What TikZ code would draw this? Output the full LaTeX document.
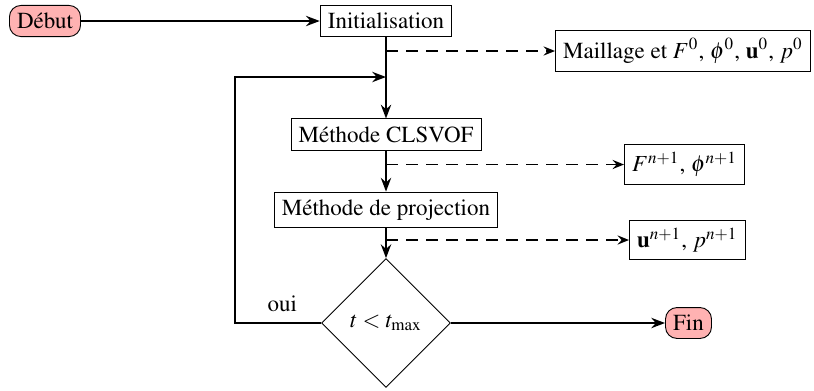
\documentclass[tikz,border=0pt]{standalone}
\usepackage[T1]{fontenc}
\usepackage{mathptmx}
\usetikzlibrary{shapes.geometric,arrows.meta}
\begin{document}
\begin{tikzpicture}[x=0.4348pt,y=-0.4348pt,
  box/.style={draw,thin,inner sep=3.33pt,fill=white},
  term/.style={draw,thin,rounded corners=5pt,fill=red!30,inner sep=3.33pt},
  decide/.style={draw,thin,diamond,aspect=1,minimum width=56pt,minimum height=56pt,inner sep=0pt},
  flow/.style={thick,-{Stealth[length=6pt,width=4.5pt,inset=2pt]}},
  data/.style={line width=0.85pt,dash pattern=on 5pt off 3.7pt,-{Stealth[length=5pt,width=4pt,inset=1.8pt]}}]
\useasboundingbox (0,0) rectangle (814,390);
\node[term] (debut) at (45,21) {Début};
\node[box] (init) at (386,21) {Initialisation};
\node[box] (clsvof) at (386,134.5) {Méthode CLSVOF};
\node[box] (proj) at (386,210) {Méthode de projection};
\node[decide] (test) at (386,323) {$t<t_{\max}$};
\node[term] (fin) at (688.5,323) {Fin};
\node[box,anchor=west] (mail) at (555,51) {Maillage et $F^0$, $\phi^0$, $\mathbf{u}^0$, $p^0$};
\node[box,anchor=west] (fphi) at (624,164.5) {$F^{n+1}$, $\phi^{n+1}$};
\node[box,anchor=west] (up) at (629,240) {$\mathbf{u}^{n+1}$, $p^{n+1}$};
\coordinate (c1) at (386,51);
\coordinate (c2) at (386,164.5);
\coordinate (c3) at (386,240);
\coordinate (join) at (386,77);
\coordinate (loopb) at (235,323);
\coordinate (loopt) at (235,77);
\draw[flow] (debut) -- (init);
\draw[flow] (init) -- (clsvof);
\draw[flow] (clsvof) -- (proj);
\draw[flow] (proj) -- (test);
\draw[flow] (test) -- (fin);
\draw[flow] (test.west) -- node[above,pos=0.45,yshift=1pt] (oui) {oui} (loopb) -- (loopt) -- (join);
\draw[data] (c1) -- (mail);
\draw[data] (c2) -- (fphi);
\draw[data] (c3) -- (up);
\end{tikzpicture}
\end{document}
